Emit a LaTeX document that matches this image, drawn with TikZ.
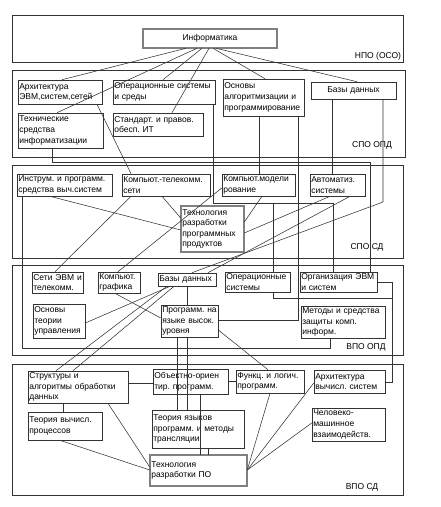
\documentclass[tikz,border=0pt]{standalone}
\usepackage{fontspec}
\setmainfont{Liberation Sans}
\usetikzlibrary{calc}
\newcommand\mkbox[7][]{%
  \pgfmathsetmacro\bw{#5-#3}%
  \pgfmathsetmacro\bh{#6-#4}%
  \pgfmathsetmacro\tw{#5-#3-2.6}%
  \pgfmathsetmacro\cx{(#3+#5)/2}%
  \pgfmathsetmacro\cy{(#4+#6)/2}%
  \node[bx,#1,minimum width=\bw pt,minimum height=\bh pt,text width=\tw pt] (#2) at (\cx,\cy) {#7};}
\begin{document}
\begin{tikzpicture}[x=1pt,y=-1pt,
  bx/.style={draw=black!80, line width=0.6pt, align=left, inner xsep=1.3pt, inner ysep=0pt,
             font=\fontsize{8.5}{10.6}\selectfont, anchor=center},
  dbl/.style={double=black!50, double distance=1.4pt, line width=0.55pt},
  band/.style={draw=black!80, line width=0.7pt},
  ln/.style={draw=black!80, line width=0.55pt},
  lbl/.style={font=\fontsize{8.5}{10}\selectfont, inner sep=0pt}]
\useasboundingbox (0,0) rectangle (440,507);
% bands
\draw[band] (12,15) rectangle (403,62);
\draw[band] (12,70) rectangle (405,157);
\draw[band] (12,165) rectangle (403,258);
\draw[band] (12,265) rectangle (403,355);
\draw[band] (12,364) rectangle (403,495);
\node[lbl] (l1) at (378,56) {НПО (ОСО)};
\node[lbl] (l2) at (372,145) {СПО ОПД};
\node[lbl] (l3) at (367,247) {СПО СД};
\node[lbl] (l4) at (366,347) {ВПО ОПД};
\node[lbl] (l5) at (362,487) {ВПО СД};
% nodes
\mkbox[dbl,align=center]{inf}{143}{29}{277}{48}{Информатика}
\mkbox{a1}{18}{80}{102}{104}{Архитектура\\ЭВМ,систем,сетей}
\mkbox{a2}{113}{80}{215}{104}{Операционные~системы\\и~среды}
\mkbox{a3}{18}{113}{103}{148}{Технические\\средства\\информатизации}
\mkbox{a4}{113}{113}{203}{136}{Стандарт.~и~правов.\\обесп.~ИТ}
\mkbox{a5}{223}{79}{304}{116}{Основы\\алгоритмизации~и\\программирование}
\mkbox[align=center]{a6}{311}{82}{396}{99}{Базы~данных}
\mkbox{b1}{17}{174}{112}{196}{Инструм.~и~программ.\\средства~выч.систем}
\mkbox{b2}{122}{174}{210}{196}{Компьют.-телекомм.\\сети}
\mkbox{b3}{222}{174}{295}{196}{Компьют.модели\\рование}
\mkbox{b4}{310}{174}{365}{196}{Автоматиз.\\системы}
\mkbox[dbl]{b5}{181}{206}{244}{252}{Технология\\разработки\\программных\\продуктов}
\mkbox{c1}{32}{272}{83}{293}{Сети~ЭВМ~и\\телекомм.}
\mkbox{c2}{98}{272}{140}{293}{Компьют.\\графика}
\mkbox{c3}{158}{273}{216}{286}{Базы~данных}
\mkbox{c4}{225}{272}{290}{292}{Операционные\\системы}
\mkbox{c5}{300}{272}{377}{292}{Организация~ЭВМ\\и~систем}
\mkbox{c6}{33}{304}{85}{338}{Основы\\теории\\управления}
\mkbox{c7}{161}{305}{218}{337}{Программ.~на\\языке~высок.\\уровня}
\mkbox{c8}{301}{306}{385}{338}{Методы~и~средства\\защиты~комп.\\информ.}
\mkbox{d1}{28}{371}{128}{403}{Структуры~и\\алгоритмы~обработки\\данных}
\mkbox{d2}{153}{369}{228}{394}{Объектно-ориен\\тир.~программ.}
\mkbox{d3}{236}{370}{304}{393}{Функц.~и~логич.\\программ.}
\mkbox{d4}{314}{370}{385}{393}{Архитектура\\вычисл.~систем}
\mkbox{d5}{28}{412}{102}{440}{Теория~вычисл.\\процессов}
\mkbox{d6}{152}{410}{244}{448}{Теория~языков\\программ.~и~методы\\трансляции}
\mkbox{d7}{312}{408}{385}{441}{Человеко-\\машинное\\взаимодейств.}
\mkbox[dbl]{d8}{150}{455}{247}{486}{Технология\\разработки~ПО}
% junctions
\coordinate (j1) at (273,203);
\coordinate (j2) at (392,298);
% connectors from Информатика
\draw[ln] (inf.south-|186,0) -- (a1.north-|62,0);
\draw[ln] (inf.south-|197,0) -- (a3.north-|57,0);
\draw[ln] (inf.south-|202,0) -- (a2.north-|163,0);
\draw[ln] (inf.south-|209,0) -- (a4.north-|172,0);
\draw[ln] (inf.south-|213,0) -- (a5.north-|265,0);
\draw[ln] (inf.south-|216,0) -- (a6.north-|357,0);
% band 2 -> lower
\draw[ln] (a1.south-|97,0) -- (b2.north-|131,0);
\draw[ln] (a2.south-|213,0) -- (213,203) -- (333,203) -- (c5.north-|333,0);
\draw[ln] (j1) -- (c4.north-|j1);
\draw[ln] (a3.south-|52,0) -- (52,162) -- (370,162) -- (c5.north-|370,0);
\draw[ln] (a5.south-|259,0) -- (b3.north-|259,0);
\draw[ln] (a5.south-|298,0) -- (298,320) -- (c7.east|-0,320);
\draw[ln] (a6.south-|332,0) -- (b4.north-|332,0);
\draw[ln] (a6.south-|383,0) -- (383,202) -- (c3.north-|192,0);
% band 3
\draw[ln] (b1.south-|22,0) -- (22,348) -- (330,348) -- (c8.south-|330,0);
\draw[ln] (b1.south-|50,0) -- (b5.west|-0,230);
\draw[ln] (b2.south-|162,0) -- (b5.west|-0,218);
\draw[ln] (b2.south-|131,0) -- (c1.north-|55,0);
\draw[ln] (b3.west|-0,188) -- (c2.north-|118,0);
\draw[ln] (b3.south-|262,0) -- (b5.east|-0,222);
\draw[ln] (b4.south-|330,0) -- (b5.east|-0,233);
\draw[ln] (b4.south-|350,0) -- (c3.north-|208,0);
% band 4
\draw[ln] (c4.south-|j1) -- (273,298) -- (j2);
\draw[ln] (c5.east|-0,282) -- (392,282) -- (392,382) -- (d4.east|-0,382);
\draw[ln] (c3.south-|187,0) -- (c7.north-|187,0);
\draw[ln] (c6.east|-0,323) -- (c3.south-|170,0);
\draw[ln] (c2.south-|115,0) -- (c7.west|-0,318);
\draw[ln] (c7.south-|177,0) -- (d6.north-|177,0);
\draw[ln] (c7.south-|187,0) -- (d6.north-|187,0);
\draw[ln] (c7.east|-0,330) -- (d3.north-|268,0);
% band 5
\draw[ln] (d1.north-|56,0) -- (c3.south-|167,0);
\draw[ln] (d1.north-|73,0) -- (c3.south-|174,0);
\draw[ln] (d1.east|-0,383) -- (d2.west|-0,383);
\draw[ln] (d2.east|-0,381) -- (d3.west|-0,381);
\draw[ln] (d1.south-|63,0) -- (d5.north-|63,0);
\draw[ln] (d1.south-|108,0) -- (d8.west|-0,467);
\draw[ln] (d5.south-|60,0) -- (d8.west|-0,470);
\draw[ln] (d2.south-|200,0) -- (d8.north-|200,0);
\draw[ln] (d6.south-|208,0) -- (d8.north-|208,0);
\draw[ln] (d3.south-|270,0) -- (d8.east|-0,470);
\draw[ln] (d4.west|-0,383) -- (d8.east|-0,470);
\draw[ln] (d7.west|-0,423) -- (d8.east|-0,470);
\end{tikzpicture}
\end{document}
